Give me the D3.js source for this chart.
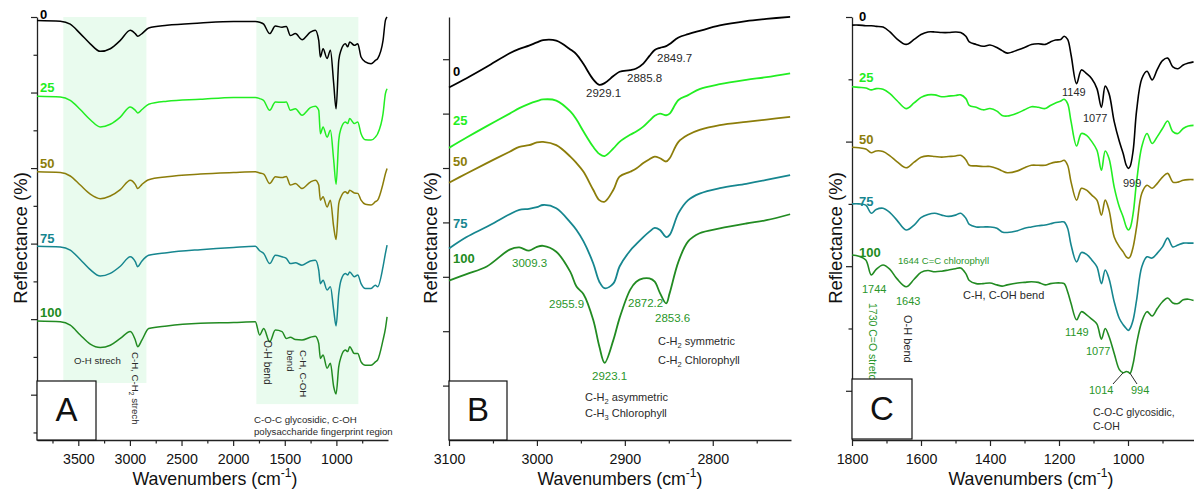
<!DOCTYPE html>
<html><head><meta charset="utf-8">
<script src="https://cdn.jsdelivr.net/npm/d3@7"></script>
<style>
body{margin:0;background:#fff}
svg text{font-family:Arial,"Liberation Sans",sans-serif}
</style>
</head><body>
<svg id="c" width="1194" height="490"></svg>
<script>
// ---------------- DATA ----------------
const seriesNames = ["0","25","50","75","100"];
const seriesColors = ["#000000","#22ee22","#8c7d0a","#16868f","#228b22"];

// Panel A: full spectrum (wavenumber, cm-1)
const wnA = [3900,3674,3578,3481,3384,3287,3190,3093,2996,2948,2925,2883,2818,2641,2318,1995,1785,1743,1704,1646,1591,1526,1485,1446,1397,1333,1252,1204,1171,1155,1129,1090,1058,1026,1003,977,955,913,890,871,826,793,761,719,664,622,600,548,525,509];
const a0   = [111.1,110.9,110.1,107.6,104.9,102.9,103.6,105.8,108.5,107.6,106.9,107.6,109.1,109.8,110.4,110.8,110.8,110.6,110.1,107.6,109.6,109.3,109.5,107.1,107.6,106.0,108.0,108.5,105.8,101.4,103.6,101.0,103.2,94.4,87.7,100.5,103.2,104.9,104.1,105.4,104.5,104.9,101.4,100.1,99.6,100.5,101.0,105.8,111.1,112.0];
const a25  = [91.0,90.8,89.9,87.5,84.8,82.9,83.6,85.5,88.2,87.3,86.6,87.5,88.9,89.7,90.2,90.7,90.7,90.4,89.9,87.3,89.5,89.4,89.5,87.3,87.7,86.0,88.0,88.4,87.3,81.1,82.9,80.2,82.0,74.1,67.7,79.4,82.5,84.2,83.8,85.1,83.8,84.2,81.1,79.5,79.4,80.2,81.1,86.4,91.7,93.0];
const a50  = [71.0,70.8,69.9,67.5,65.1,63.9,64.6,66.3,68.8,67.7,66.6,67.7,68.9,69.7,70.4,70.8,71.0,70.7,70.4,67.9,69.7,69.5,69.8,67.5,67.9,66.6,68.3,68.8,67.5,63.5,64.4,61.7,63.5,56.4,53.1,62.6,64.4,65.7,65.3,66.1,65.4,65.3,63.5,62.4,62.2,63.1,63.5,67.9,70.5,71.9];
const a75  = [51.3,51.1,50.3,47.8,45.1,43.4,44.1,46.0,48.5,47.2,45.9,47.4,48.9,49.6,50.4,51.0,51.3,50.1,49.4,46.7,48.9,48.5,48.1,46.7,46.9,46.3,47.4,47.6,45.0,41.4,42.3,39.7,40.6,34.4,30.2,38.8,42.3,44.1,43.7,44.5,43.2,43.7,41.4,40.1,40.1,41.0,40.6,45.9,49.4,51.6];
const a100 = [31.5,31.3,30.4,27.8,25.4,24.5,25.1,26.9,28.7,26.5,24.7,26.5,29.5,30.2,30.9,31.1,31.3,27.8,29.5,26.0,29.1,28.7,26.9,27.2,26.6,26.5,27.2,27.5,25.6,21.6,22.5,19.0,20.3,14.1,12.2,19.4,22.0,23.8,23.4,24.7,22.9,22.9,20.7,19.8,19.8,20.7,21.2,26.5,29.5,32.6];
const shadeA = [[3645,2840,15.1],[1775,787,9.5]]; // wavenumber from, to, lower reflectance

// Panel B: C-H region
const wnB = [3100,3080,3057,3031,3020,3009,3000,2993,2978,2962,2955,2947,2936,2929,2923,2913,2906,2894,2887,2879,2872,2866,2860,2853,2849,2839,2828,2815,2792,2762,2739,2712];
const b0   = [64.8,66.5,68.6,71.1,71.9,72.5,73.1,73.5,73.4,71.8,70.9,69.1,66.3,65.3,65.6,66.9,67.7,68.0,68.3,69.2,70.6,71.7,72.1,72.4,72.8,74.0,74.6,75.2,76.2,77.0,77.4,77.8];
const b25  = [53.7,55.6,57.7,60.0,61.0,61.8,62.3,62.6,62.4,60.4,58.9,56.7,53.9,52.6,52.2,53.6,54.8,56.1,56.7,57.6,58.7,59.6,60.0,59.7,60.0,62.5,63.4,64.5,65.4,66.2,66.7,67.4];
const b50  = [47.3,49.0,50.9,53.0,53.9,54.2,54.7,54.8,54.2,52.1,50.9,49.3,46.0,44.1,43.8,46.0,48.4,49.3,49.9,50.9,51.6,52.1,51.8,51.2,51.8,54.8,56.1,57.0,57.9,58.5,58.9,59.4];
const b75  = [35.2,37.3,39.2,41.5,42.3,42.5,42.8,43.2,42.6,40.0,38.6,36.5,32.5,29.1,27.9,28.8,31.9,34.8,36.0,37.3,38.3,39.0,38.6,37.3,37.7,41.7,44.1,45.3,46.3,47.1,47.8,48.7];
const b100 = [29.3,30.5,31.9,35.0,35.4,34.8,35.5,35.7,34.6,30.9,28.2,26.8,22.1,17.2,14.2,18.4,22.4,27.6,29.1,29.7,29.7,29.1,27.0,25.1,27.0,32.8,36.5,38.0,38.9,39.8,40.4,41.5];

// Panel C: fingerprint region
const wnC = [1800,1780,1760,1744,1730,1710,1690,1670,1643,1620,1600,1580,1560,1540,1520,1500,1485,1470,1460,1440,1420,1400,1380,1365,1350,1320,1300,1280,1260,1240,1225,1210,1195,1185,1175,1165,1149,1135,1120,1105,1090,1077,1066,1055,1040,1025,1014,1005,999,994,985,975,960,945,930,915,900,885,870,855,840,825,810];
const c0   = [63.7,63.7,63.6,63.6,63.5,63.4,62.6,61.5,60.6,61.4,62.2,62.6,62.6,62.5,62.5,62.6,62.5,61.9,61.0,60.6,60.3,60.5,60.1,59.6,59.2,59.7,60.1,60.6,60.7,60.6,61.0,61.3,61.4,61.9,61.4,58.9,54.3,56.5,55.9,55.1,53.5,50.5,53.9,52.7,48.2,45.0,43.1,41.2,40.7,41.0,43.6,50.0,55.1,56.3,54.9,56.6,58.0,58.4,57.0,56.7,57.3,57.6,57.8];
const c25  = [53.8,53.7,53.6,53.3,53.5,53.4,52.7,51.6,50.3,51.2,52.1,52.5,52.5,52.2,52.3,52.4,52.5,51.9,50.8,50.5,50.1,50.3,49.9,49.2,49.1,49.6,50.1,50.6,50.5,50.3,50.8,51.2,51.5,51.8,51.1,48.2,44.3,46.3,46.0,45.0,43.6,40.4,43.5,42.3,37.7,34.5,32.9,31.3,30.8,31.1,33.5,38.6,44.2,46.3,44.7,45.8,47.1,48.3,46.6,46.3,47.1,47.5,47.6];
const c50  = [44.1,44.0,43.8,43.2,43.5,43.4,42.7,41.8,40.8,41.7,42.5,42.7,42.6,42.5,42.6,42.7,42.8,42.1,41.2,41.1,41.0,41.0,40.7,40.3,40.0,40.3,40.8,41.2,41.2,41.2,41.5,41.7,41.8,42.0,41.2,38.5,35.6,37.5,37.2,36.4,35.6,33.2,35.6,34.0,29.7,28.1,27.3,26.5,26.3,26.5,28.1,31.3,36.7,38.0,37.5,38.3,39.3,39.9,38.5,38.5,38.8,38.9,38.9];
const c75  = [35.0,35.0,34.8,33.5,34.1,34.3,33.6,32.4,30.8,31.6,32.8,33.3,33.5,33.2,33.0,33.2,33.5,32.7,31.7,31.3,31.3,31.3,31.1,30.5,30.4,30.7,31.1,31.3,31.5,31.6,31.8,32.0,32.1,32.1,31.1,28.4,25.7,27.2,26.9,26.0,24.9,22.2,24.4,23.0,19.3,16.6,15.6,15.0,14.7,15.0,16.4,19.6,24.9,26.5,26.3,27.1,28.1,29.5,28.1,28.4,28.7,28.7,28.7];
const c100 = [26.8,26.6,26.0,23.6,24.5,25.2,24.5,23.0,21.7,22.9,24.0,24.3,24.1,24.2,24.4,24.6,24.7,23.8,22.7,22.2,22.2,22.3,22.0,21.8,22.0,22.3,22.4,22.5,22.4,22.0,22.2,22.3,22.3,22.2,20.9,19.0,16.4,17.7,17.2,16.5,15.7,13.3,15.0,13.7,11.0,8.4,7.9,8.1,8.0,7.8,9.4,12.6,16.1,17.7,17.0,18.2,19.3,19.9,19.1,19.0,19.6,19.7,19.5];

// Tick values
const ticksA = [3500,3000,2500,2000,1500,1000];
const minorA = [3750,3250,2750,2250,1750,1250,750];
const ticksB = [3100,3000,2900,2800];
const minorB = [3050,2950,2850,2750];
const ticksC = [1800,1600,1400,1200,1000];
const minorC = [1700,1500,1300,1100,900];
const yMajA = [112,92,72,52,32,12], yMinA = [102,82,62,42,22,2];
const yMajB = [10,20,30,40,50,60,70], yMinB = [];
const yMajC = [65,45,25,5], yMinC = [55,35,15];

// ---------------- DRAW ----------------
const svg = d3.select("#c");
const TOP = 17, BOT = 440;
const GREEN_TXT = "#2a962a", DARK = "#2a2a2a";

function label(g, x, y, parts, o = {}) {
  const fs = o.size || 11;
  const t = g.append("text")
    .attr("font-size", fs)
    .attr("fill", o.color || DARK)
    .attr("font-weight", o.weight || "normal")
    .attr("text-anchor", o.anchor || "start");
  let tr = `translate(${x},${y})`;
  if (o.rotate) tr += ` rotate(${o.rotate})`;
  if (o.sx) tr += ` scale(${o.sx},1)`;
  t.attr("transform", tr);
  if (typeof parts === "string") parts = [[parts]];
  let shift = 0;
  parts.forEach(([s, k]) => {
    const ts = t.append("tspan").text(s);
    const target = k === "sub" ? fs * 0.3 : k === "sup" ? -fs * 0.42 : 0;
    ts.attr("dy", target - shift); shift = target;
    if (k) ts.attr("font-size", fs * 0.68);
  });
  return t;
}

const panels = [
  { xr:[37,388], xd:[3900,500], yd:[0,112], wn:wnA, vals:[a0,a25,a50,a75,a100],
    xt:ticksA, xm:minorA, ymj:yMajA, ymn:yMinA, curve:d3.curveMonotoneX, sw:1.5,
    titleX:215, yTitleX:27, lblX:40, lblY:[19,92,168,243,317] },
  { xr:[449,791], xd:[3100,2711], yd:[0,77.76], wn:wnB, vals:[b0,b25,b50,b75,b100],
    xt:ticksB, xm:minorB, ymj:yMajB, ymn:yMinB, curve:d3.curveCatmullRom, sw:1.8,
    titleX:620, yTitleX:437, lblX:453, lblY:[76,125,166,228,263] },
  { xr:[852,1197], xd:[1800,800], yd:[-2.9,65], wn:wnC, vals:[c0,c25,c50,c75,c100],
    xt:ticksC, xm:minorC, ymj:yMajC, ymn:yMinC, curve:d3.curveCatmullRom, sw:1.6,
    titleX:1031, yTitleX:842, lblX:859, lblY:[21,82,144,206,257] }
];

panels.forEach((p, pi) => {
  const g = svg.append("g");
  p.x = d3.scaleLinear().domain(p.xd).range(p.xr);
  p.y = d3.scaleLinear().domain(p.yd).range([BOT, TOP]);
  p.g = g;

  if (pi === 0) {
    shadeA.forEach(([f, t, lo]) => {
      g.append("rect").attr("x", p.x(f)).attr("y", TOP)
        .attr("width", p.x(t) - p.x(f)).attr("height", p.y(lo) - TOP)
        .attr("fill", "#e9fbee");
    });
  }

  // x axis
  const xa = g.append("g").attr("transform", `translate(0,${BOT})`)
    .call(d3.axisBottom(p.x).tickValues(p.xt).tickSize(6).tickSizeOuter(0).tickPadding(7.5).tickFormat(d3.format("d")));
  xa.select(".domain").attr("stroke", "#222").attr("stroke-width", 1.3);
  xa.selectAll(".tick line").attr("stroke", "#222").attr("stroke-width", 1.2);
  xa.selectAll("text").attr("font-size", 15).attr("fill", "#111")
    .attr("font-family", "Arial, 'Liberation Sans', sans-serif").attr("transform", "scale(0.95,1)");
  const xm = g.append("g").attr("transform", `translate(0,${BOT})`)
    .call(d3.axisBottom(p.x).tickValues(p.xm).tickSize(3.5).tickSizeOuter(0).tickFormat(""));
  xm.select(".domain").remove();
  xm.selectAll(".tick line").attr("stroke", "#222").attr("stroke-width", 1.2);

  // y axis
  const ya = g.append("g").attr("transform", `translate(${p.xr[0]},0)`)
    .call(d3.axisLeft(p.y).tickValues(p.ymj).tickSize(6).tickSizeOuter(0).tickFormat(""));
  ya.select(".domain").attr("stroke", "#222").attr("stroke-width", 1.3);
  ya.selectAll(".tick line").attr("stroke", "#222").attr("stroke-width", 1.2);
  if (p.ymn.length) {
    const ym = g.append("g").attr("transform", `translate(${p.xr[0]},0)`)
      .call(d3.axisLeft(p.y).tickValues(p.ymn).tickSize(3.5).tickSizeOuter(0).tickFormat(""));
    ym.select(".domain").remove();
    ym.selectAll(".tick line").attr("stroke", "#222").attr("stroke-width", 1.2);
  }

  // spectra
  const line = d3.line().x((d, i) => p.x(p.wn[i])).y(d => p.y(d)).curve(p.curve);
  p.vals.forEach((vs, si) => {
    g.append("path").attr("d", line(vs)).attr("fill", "none")
      .attr("stroke", seriesColors[si]).attr("stroke-width", p.sw)
      .attr("stroke-linejoin", "round");
  });

  // series labels
  seriesNames.forEach((s, si) => {
    label(g, p.lblX, p.lblY[si], s, { size: 13, weight: "bold", color: seriesColors[si] });
  });

  // titles
  label(g, p.titleX, 485, [["Wavenumbers (cm"], ["-1", "sup"], [")"]], { size: 18.5, anchor: "middle", color: "#111", sx: 0.96 });
  label(g, p.yTitleX, 238, "Reflectance (%)", { size: 18.5, anchor: "middle", color: "#111", rotate: -90 });
});

// ---------- annotations ----------
const [PA, PB, PC] = panels;
// Panel A
{
  const g = PA.g;
  label(g, 74, 364, "O-H strech", { size: 9.7 });
  label(g, 132, 352, [["C-H, C-H"], ["2", "sub"], [" strech"]], { size: 9.7, rotate: 90 });
  label(g, 264, 340, "O-H bend", { size: 10.3, rotate: 90 });
  label(g, 300, 350, "C-H, C-OH", { size: 9.7, rotate: 90 });
  label(g, 287, 350, "bend", { size: 9.7, rotate: 90 });
  label(g, 254, 423, "C-O-C glycosidic, C-OH", { size: 9.7 });
  label(g, 254, 435, "polysaccharide fingerprint region", { size: 9.6 });
}
// Panel B
{
  const g = PB.g;
  label(g, 586, 97, "2929.1", { size: 11.5 });
  label(g, 627, 82, "2885.8", { size: 11.5 });
  label(g, 657, 62, "2849.7", { size: 11.5 });
  label(g, 512, 267, "3009.3", { size: 11.5, color: GREEN_TXT });
  label(g, 549, 308, "2955.9", { size: 11.5, color: GREEN_TXT });
  label(g, 628, 307, "2872.2", { size: 11.5, color: GREEN_TXT });
  label(g, 655, 322, "2853.6", { size: 11.5, color: GREEN_TXT });
  label(g, 592, 380, "2923.1", { size: 11.5, color: GREEN_TXT });
  label(g, 658, 345, [["C-H"], ["2", "sub"], [" symmetric"]], { size: 11 });
  label(g, 658, 364, [["C-H"], ["2", "sub"], [" Chlorophyll"]], { size: 11 });
  label(g, 585, 401, [["C-H"], ["2", "sub"], [" asymmetric"]], { size: 11 });
  label(g, 585, 417, [["C-H"], ["3", "sub"], [" Chlorophyll"]], { size: 11 });
}
// Panel C
{
  const g = PC.g;
  label(g, 1062, 96, "1149", { size: 11 });
  label(g, 1083, 122, "1077", { size: 11 });
  label(g, 1123, 187, "999", { size: 11 });
  label(g, 898, 264, "1644 C=C chlorophyll", { size: 9.5, color: GREEN_TXT });
  label(g, 862, 293, "1744", { size: 11, color: GREEN_TXT });
  label(g, 896, 305, "1643", { size: 11, color: GREEN_TXT });
  label(g, 963, 299, "C-H, C-OH bend", { size: 11 });
  label(g, 1065, 336, "1149", { size: 11, color: GREEN_TXT });
  label(g, 1086, 355, "1077", { size: 11, color: GREEN_TXT });
  label(g, 1089, 394, "1014", { size: 11, color: GREEN_TXT });
  label(g, 1131, 394, "994", { size: 11, color: GREEN_TXT });
  label(g, 1093, 416, "C-O-C glycosidic,", { size: 10.5 });
  label(g, 1093, 430, "C-OH", { size: 10.5 });
  label(g, 869, 303, "1730 C=O stretch", { size: 10.5, color: GREEN_TXT, rotate: 90 });
  label(g, 904, 315, "O-H bend", { size: 11, rotate: 90 });
  const i1 = wnC.indexOf(1014), i2 = wnC.indexOf(994);
  g.append("line").attr("x1", 1113).attr("y1", 384).attr("x2", PC.x(1014)).attr("y2", PC.y(c100[i1]))
    .attr("stroke", "#111").attr("stroke-width", 0.9);
  g.append("line").attr("x1", 1137).attr("y1", 384).attr("x2", PC.x(994)).attr("y2", PC.y(c100[i2]))
    .attr("stroke", "#111").attr("stroke-width", 0.9);
}

// panel letter boxes
[["A", 37, 381, 59, 59], ["B", 449, 381, 58, 59], ["C", 852, 379, 60, 60]].forEach(([t, x, y, w, h]) => {
  svg.append("rect").attr("x", x).attr("y", y).attr("width", w).attr("height", h)
    .attr("fill", "#fff").attr("stroke", "#111").attr("stroke-width", 1.2);
  label(svg, x + w / 2, y + h - 19, t, { size: 33, anchor: "middle", color: "#111" });
});
</script>
</body></html>
